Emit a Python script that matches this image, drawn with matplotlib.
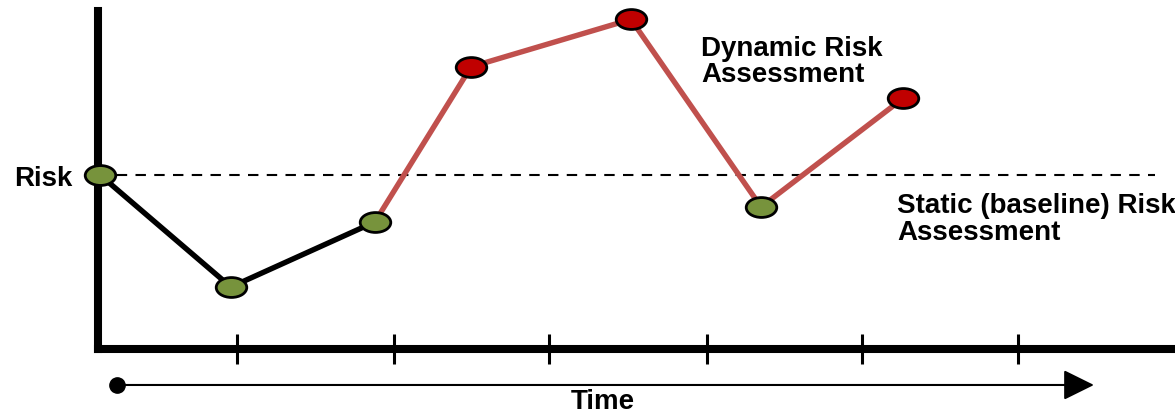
import numpy as np
import matplotlib
matplotlib.use("Agg")
import matplotlib.pyplot as plt
from matplotlib.path import Path
from matplotlib.transforms import Affine2D

# ================= DATA =================
time = [0.013, 0.851, 1.773, 2.388, 3.412, 4.245, 5.154]
risk = [1.0, 0.356, 0.730, 1.621, 1.894, 0.816, 1.440]
level = ['ok', 'ok', 'ok', 'high', 'high', 'ok', 'high']
time_ticks = [0.890, 1.895, 2.887, 3.899, 4.891, 5.890]
baseline = 1.0
split = 2  # static part up to here, dynamic after

fill = {'ok': '#77933C', 'high': '#C00000'}

plt.rcParams['font.family'] = ['Liberation Sans', 'DejaVu Sans']

# ================= FIGURE =================
fig = plt.figure(figsize=(11.75, 4.14), dpi=100)
ax = fig.add_axes([0, 0, 1, 1])
ax.set_xlim(-0.627, 6.895)
ax.set_ylim(-0.368, 2.011)
ax.patch.set_visible(False)

# axes as thick black lines
for s in ['top', 'right']:
    ax.spines[s].set_visible(False)
ax.spines['left'].set_position(('data', 0))
ax.spines['bottom'].set_position(('data', 0))
ax.spines['left'].set_linewidth(5.8)
ax.spines['bottom'].set_linewidth(5.8)
ax.spines['left'].set_bounds(0, 1.943)
ax.spines['bottom'].set_bounds(0, 6.895)

ax.set_xticks(time_ticks)
ax.set_yticks([])
ax.tick_params(axis='x', direction='inout', length=22, width=2.2,
               color='black', labelbottom=False)

# ================= BASELINE =================
ax.plot([0, 6.77], [baseline, baseline], color='black', lw=1.5,
        dashes=(5, 4))

# ================= RISK CURVE =================
ax.plot(time[:split + 1], risk[:split + 1], color='black', lw=3.9,
        solid_capstyle='round', zorder=3)
ax.plot(time[split:], risk[split:], color='#C0504D', lw=3.9,
        solid_capstyle='round', zorder=3)

ellipse = Path.unit_circle().transformed(Affine2D().scale(1, 0.65))
for t, r, lv in zip(time, risk, level):
    ax.plot(t, r, marker=ellipse, ms=22, mfc=fill[lv], mec='black',
            mew=2.0, ls='none', zorder=4)

# ================= TIME ARROW =================
ax.annotate('', xy=(6.376, -0.207), xytext=(0.122, -0.207),
            arrowprops=dict(arrowstyle='-|>,head_length=0.95,head_width=0.47',
                            mutation_scale=20, lw=1.5, color='black',
                            shrinkA=0, shrinkB=0))
ax.plot(0.122, -0.207, 'o', color='black', ms=11)

# ================= LABELS =================
ax.text(-0.16, 0.943, 'Risk', ha='right', va='baseline',
        fontsize=20, fontweight='bold')
ax.text(3.233, -0.338, 'Time', ha='center', va='baseline',
        fontsize=20, fontweight='bold')

for i, line in enumerate(['Dynamic Risk', 'Assessment']):
    ax.text(3.86, [1.69, 1.542][i], line, ha='left', va='baseline',
            fontsize=20, fontweight='bold')
for i, line in enumerate(['Static (baseline) Risk', 'Assessment']):
    ax.text(5.115, [0.786, 0.632][i], line, ha='left', va='baseline',
            fontsize=20, fontweight='bold')

fig.savefig('out.png', dpi=100)
